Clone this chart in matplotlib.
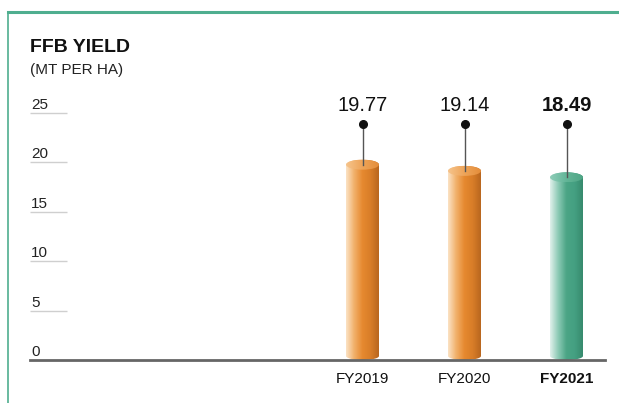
import numpy as np
import matplotlib
matplotlib.use("Agg")
from matplotlib import pyplot as plt
from matplotlib.path import Path
from matplotlib.patches import PathPatch, Ellipse
from matplotlib.colors import LinearSegmentedColormap
from matplotlib.lines import Line2D

# FFB yield per financial year
years = ["FY2019", "FY2020", "FY2021"]
yields = [19.77, 19.14, 18.49]
y_ticks = [0, 5, 10, 15, 20, 25]

plt.rcParams["font.family"] = ["Liberation Sans", "DejaVu Sans"]

orange_body = LinearSegmentedColormap.from_list(
    "ob", ["#fbe3c6", "#f1b06a", "#e6892f", "#d87d28", "#b8661f"])
orange_cap = LinearSegmentedColormap.from_list(
    "oc", ["#f6c48c", "#eea458", "#e48d3a"])
green_body = LinearSegmentedColormap.from_list(
    "gb", ["#e2f1ec", "#8ccab5", "#4ba585", "#44a082", "#378a6d"])
green_cap = LinearSegmentedColormap.from_list(
    "gc", ["#8fcdb8", "#62b597", "#4fa686"])

W, H = 619, 403
fig = plt.figure(figsize=(W / 100, H / 100), dpi=100)

# axes placed so that 0 sits on the baseline and 25 on the top grid tick
px_per_unit = (360 - 113) / 25
ax_left, ax_right = 30, 605
ax_bottom = H - 360
ylim_top = 27.0
ax = fig.add_axes([ax_left / W, ax_bottom / H, (ax_right - ax_left) / W,
                   ylim_top * px_per_unit / H])
slot = 102.0
x_pos = np.arange(len(years))
ax.set_xlim(x_pos[0] - (362.5 - ax_left) / slot, x_pos[0] + (ax_right - 362.5) / slot)
ax.set_ylim(0, ylim_top)
ax.axis("off")

bar_w = 33 / slot
cap_h = 10 / px_per_unit
foot_h = 8 / px_per_unit
dot_y = (360 - 124) / px_per_unit
label_y = (360 - 111) / px_per_unit


def cylinder(x, v, body_cmap, cap_cmap):
    x0, x1 = x - bar_w / 2, x + bar_w / 2
    yb = foot_h / 2
    t = np.linspace(np.pi, 2 * np.pi, 40)
    bottom = np.column_stack([x + bar_w / 2 * np.cos(t), yb + foot_h / 2 * np.sin(t)])
    t2 = np.linspace(0, np.pi, 40)
    top = np.column_stack([x + bar_w / 2 * np.cos(t2), v + cap_h / 2 * np.sin(t2)])
    verts = np.vstack([bottom, [[x1, v]], top, [[x0, yb]], [[x0, yb]]])
    codes = [Path.MOVETO] + [Path.LINETO] * (len(verts) - 2) + [Path.CLOSEPOLY]
    body = PathPatch(Path(verts, codes), facecolor="none", edgecolor="none")
    ax.add_patch(body)
    grad = np.linspace(0, 1, 256).reshape(1, -1)
    im = ax.imshow(grad, cmap=body_cmap, aspect="auto",
                   extent=[x0, x1, 0, v + cap_h], interpolation="bicubic", zorder=2)
    im.set_clip_path(body)
    cap = Ellipse((x, v), bar_w, cap_h, facecolor="none", edgecolor="none")
    ax.add_patch(cap)
    im2 = ax.imshow(grad, cmap=cap_cmap, aspect="auto",
                    extent=[x0, x1, v - cap_h / 2, v + cap_h / 2],
                    interpolation="bicubic", zorder=3)
    im2.set_clip_path(cap)


for i, (yr, v) in enumerate(zip(years, yields)):
    latest = i == len(years) - 1
    if latest:
        cylinder(x_pos[i], v, green_body, green_cap)
    else:
        cylinder(x_pos[i], v, orange_body, orange_cap)
    ax.plot([x_pos[i], x_pos[i]], [v, dot_y], color="#555555", lw=1.0, zorder=4)
    ax.plot(x_pos[i], dot_y, "o", color="#111111", ms=5.5, zorder=5)
    ax.text(x_pos[i], label_y, f"{v:.2f}", ha="center", va="baseline",
            fontsize=14.5, fontweight="bold" if latest else "normal", color="#111111")
    ax.text(x_pos[i], -23 / px_per_unit, yr, ha="center", va="baseline",
            fontsize=11, fontweight="bold" if latest else "normal", color="#111111")

# short grid ticks with their labels sitting on top
x_left = ax.get_xlim()[0]
grid_len = 37 / slot
for t in y_ticks:
    if t > 0:
        ax.plot([x_left, x_left + grid_len], [t, t], color="#cfcfcf", lw=1.0,
                solid_capstyle="butt", clip_on=False)
    ax.text(x_left + 1 / slot, t + 4 / px_per_unit, str(t), ha="left", va="baseline",
            fontsize=11, color="#222222")

ax.axhline(0, color="#666666", lw=2.0, zorder=6, clip_on=False)

# title block
fig.text(30 / W, 1 - 52 / H, "FFB YIELD", fontsize=14, fontweight="bold",
         color="#111111", va="baseline")
fig.text(30 / W, 1 - 74 / H, "(MT PER HA)", fontsize=11,
         color="#222222", va="baseline")

# teal frame along the top and left edge
frame = "#4fae8f"
fig.add_artist(Line2D([8 / W, 1], [1 - 12 / H, 1 - 12 / H], color=frame, lw=2.2,
                      transform=fig.transFigure))
fig.add_artist(Line2D([8 / W, 8 / W], [0, 1 - 12 / H], color=frame, lw=1.2,
                      transform=fig.transFigure))

fig.savefig("out.png", dpi=100)
